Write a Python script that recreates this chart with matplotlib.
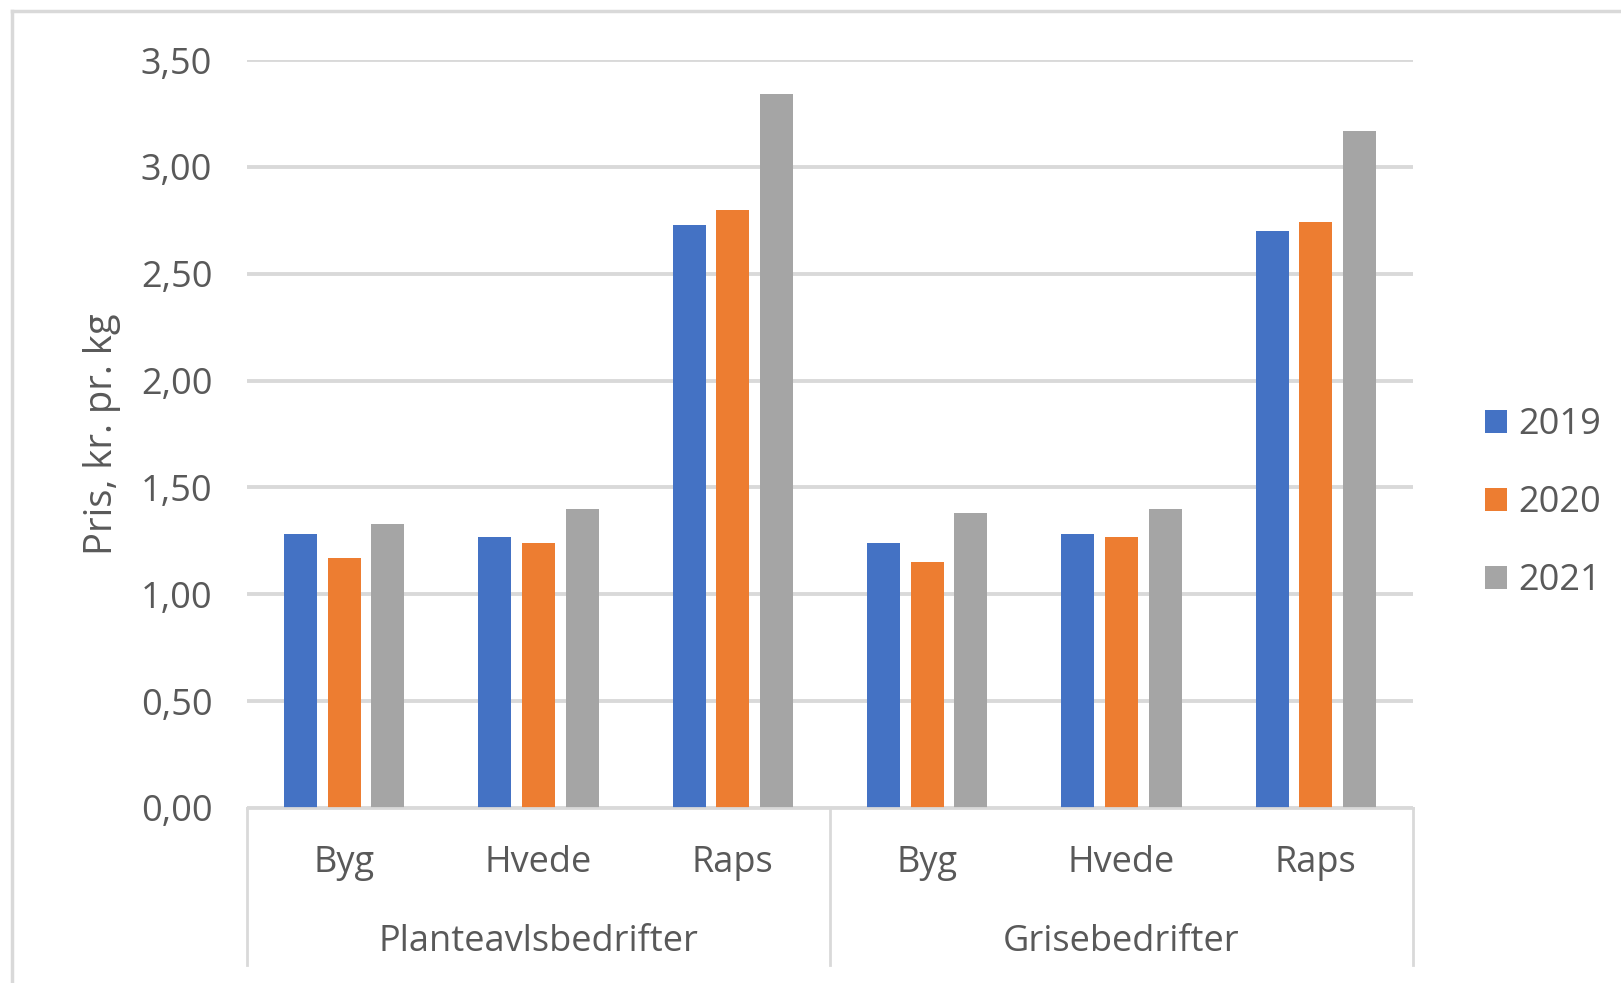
import matplotlib
matplotlib.use("Agg")
import matplotlib.pyplot as plt
import numpy as np
from matplotlib.lines import Line2D

plt.rcParams['font.family'] = ['Open Sans', 'DejaVu Sans']

groups = ["Planteavlsbedrifter", "Grisebedrifter"]
crops = ["Byg", "Hvede", "Raps"]
years = ["2019", "2020", "2021"]
v2019 = [1.28, 1.27, 2.73, 1.24, 1.28, 2.70]
v2020 = [1.17, 1.24, 2.80, 1.15, 1.27, 2.74]
v2021 = [1.33, 1.40, 3.34, 1.38, 1.40, 3.17]
colors = ["#4472C4", "#ED7D31", "#A5A5A5"]
yticks = [0.0, 0.5, 1.0, 1.5, 2.0, 2.5, 3.0, 3.5]

W, H = 1621, 983
fig = plt.figure(figsize=(W/100, H/100), dpi=100)
ax_bottom_px, ax_top_px = 808, 60
ax_h = ax_bottom_px - ax_top_px
ax = fig.add_axes([247/W, 1-ax_bottom_px/H, (1413-247)/W, ax_h/H])

txt = "#595959"
grid = "#D9D9D9"
FS = 26
x = np.arange(len(crops) * len(groups))
bw = 0.17
step = 0.224
for i, (vals, c, lab) in enumerate(zip([v2019, v2020, v2021], colors, years)):
    ax.bar(x + (i - 1) * step, vals, width=bw, color=c, label=lab, zorder=3)

ax.set_xlim(-0.5, 5.5)
ax.set_ylim(0, 3.5)
ax.set_yticks(yticks)
ax.set_yticklabels([f"{t:.2f}".replace(".", ",") for t in yticks], fontsize=FS, color=txt)
ax.yaxis.grid(True, color=grid, linewidth=2.8, zorder=0)
ax.tick_params(axis='y', length=0, pad=25)
for s in ["top", "right", "left"]:
    ax.spines[s].set_visible(False)
ax.spines["bottom"].set_color(grid)
ax.spines["bottom"].set_linewidth(2.0)
ax.spines["bottom"].set_zorder(4)

ax.set_xticks([])
trans = ax.get_xaxis_transform()
for xi, lab in zip(x, crops * len(groups)):
    ax.text(xi, -64/ax_h, lab, transform=trans, ha='center', va='baseline',
            fontsize=FS, color=txt)
for xv in [-0.5, 2.5, 5.5]:
    ax.add_line(Line2D([xv, xv], [0, -157/ax_h], transform=trans, color=grid,
                       linewidth=2.0, clip_on=False))
for gi, g in enumerate(groups):
    ax.text(gi * 3 + 1, -143/ax_h, g, transform=trans, ha='center', va='baseline',
            fontsize=FS, color=txt)

ax.set_ylabel("Pris, kr. pr. kg", fontsize=27.5, color=txt)
ax.yaxis.set_label_coords((121-247)/1166, 0.5)

leg = fig.legend(loc='center left', bbox_to_anchor=(1485/W, 1-503/H), frameon=False,
                 fontsize=FS, handlelength=0.61, handleheight=0.61, handletextpad=0.3,
                 labelspacing=1.16, borderpad=0, borderaxespad=0)
for t in leg.get_texts():
    t.set_color(txt)

# outer chart border
fig.add_artist(Line2D([12/W, 1.0], [1-11/H, 1-11/H], transform=fig.transFigure,
                      color=grid, linewidth=2.5))
fig.add_artist(Line2D([12/W, 12/W], [0, 1-11/H], transform=fig.transFigure,
                      color=grid, linewidth=2.5))

fig.savefig("out.png", dpi=100)
